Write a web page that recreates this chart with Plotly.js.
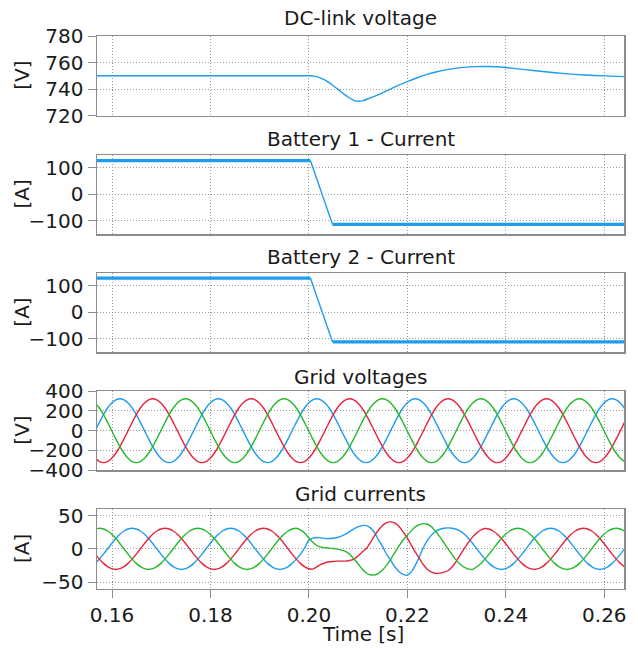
<!DOCTYPE html>
<html>
<head>
<meta charset="utf-8">
<script src="https://cdn.plot.ly/plotly-3.0.1.min.js"></script>
<style>html,body{margin:0;padding:0;background:#fff;}#plot{width:638px;height:648px;}</style>
</head>
<body>
<div id="plot"></div>
<script>
// ---------- data ----------
const panelTitles = ["DC-link voltage", "Battery 1 - Current", "Battery 2 - Current", "Grid voltages", "Grid currents"];
const yUnits = ["[V]", "[A]", "[A]", "[V]", "[A]"];
const xTickVals = [0.16, 0.18, 0.20, 0.22, 0.24, 0.26];

// DC-link voltage
const dcTime = [0.1566, 0.200, 0.201, 0.202, 0.203, 0.204, 0.205, 0.206, 0.207, 0.208, 0.209, 0.2095, 0.210, 0.211, 0.212, 0.214, 0.216, 0.218, 0.220, 0.222, 0.224, 0.226, 0.228, 0.230, 0.232, 0.234, 0.236, 0.238, 0.240, 0.244, 0.248, 0.252, 0.256, 0.260, 0.2645];
const dcVolt = [750, 750, 749.7, 748.8, 747.2, 745, 742.3, 739.5, 736.5, 733.8, 731.6, 731, 730.7, 731.2, 732.5, 735.5, 739, 742.5, 745.5, 748.5, 751, 753, 754.6, 755.8, 756.5, 756.9, 757, 756.8, 756.2, 754.6, 753, 751.6, 750.6, 749.9, 749.3];

// Battery currents
const batTime = [0.1566, 0.2003, 0.2048, 0.2645];
const bat1Current = [126, 126, -114, -114];
const bat2Current = [129, 129, -112, -112];

// Grid signals sampled every DT seconds starting at T0
const T0 = 0.1566;
const DT = 0.000833333;
const vA = [0,84,163,230,281,314,325,314,281,230,163,84,0,-84,-163,-230,-281,-314,-325,-314,-281,-230,-163,-84,
0,84,163,230,281,314,325,314,281,230,163,84,0,-84,-163,-230,-281,-314,-325,-314,-281,-230,-163,-84,
0,84,163,230,281,314,325,314,281,230,163,84,0,-84,-163,-230,-281,-314,-325,-314,-281,-230,-163,-84,
0,84,163,230,281,314,325,314,281,230,163,84,0,-84,-163,-230,-281,-314,-325,-314,-281,-230,-163,-84,
0,84,163,230,281,314,325,314,281,230,163,84,0,-84,-163,-230,-281,-314,-325,-314,-281,-230,-163,-84,
0,84,163,230,281,314,325,314,281,230];
const vB = [-281,-314,-325,-314,-281,-230,-163,-84,0,84,163,230,281,314,325,314,281,230,163,84,0,-84,-163,-230,
-281,-314,-325,-314,-281,-230,-163,-84,0,84,163,230,281,314,325,314,281,230,163,84,0,-84,-163,-230,
-281,-314,-325,-314,-281,-230,-163,-84,0,84,163,230,281,314,325,314,281,230,163,84,0,-84,-163,-230,
-281,-314,-325,-314,-281,-230,-163,-84,0,84,163,230,281,314,325,314,281,230,163,84,0,-84,-163,-230,
-281,-314,-325,-314,-281,-230,-163,-84,0,84,163,230,281,314,325,314,281,230,163,84,0,-84,-163,-230,
-281,-314,-325,-314,-281,-230,-163,-84,0,84];
const vC = [281,230,163,84,0,-84,-163,-230,-281,-314,-325,-314,-281,-230,-163,-84,0,84,163,230,281,314,325,314,
281,230,163,84,0,-84,-163,-230,-281,-314,-325,-314,-281,-230,-163,-84,0,84,163,230,281,314,325,314,
281,230,163,84,0,-84,-163,-230,-281,-314,-325,-314,-281,-230,-163,-84,0,84,163,230,281,314,325,314,
281,230,163,84,0,-84,-163,-230,-281,-314,-325,-314,-281,-230,-163,-84,0,84,163,230,281,314,325,314,
281,230,163,84,0,-84,-163,-230,-281,-314,-325,-314,-281,-230,-163,-84,0,84,163,230,281,314,325,314,
281,230,163,84,0,-84,-163,-230,-281,-314];

const iA = [-21.9,-15.5,-8,0,8,15.5,21.9,26.8,29.9,31,29.9,26.8,21.9,15.5,8,0,-8,-15.5,-21.9,-26.8,-29.9,-31,-29.9,-26.8,
-21.9,-15.5,-8,0,8,15.5,21.9,26.8,29.9,31,29.9,26.8,21.9,15.5,8,0,-8,-15.5,-21.9,-26.8,-29.9,-31,-29.9,-26.8,
-21.9,-15.5,-8,1,
13,16,17,16.5,15.5,15.5,16,17,19,22,
26,30,33,35,35,32,25,14,4,-8,
-17,-27,-34,-38.5,-39.5,-35,-25,-12,2,13,
21,26.5,29.5,31,31.5,31,29.5,
26.8,21.9,15.5,8,0,-8,-15.5,-21.9,-26.8,-29.9,
-31,-29.9,-26.8,-21.9,-15.5,-8,0,8,15.5,21.9,
26.8,29.9,31,29.9,26.8,21.9,15.5,8,0,-8,
-15.5,-21.9,-26.8,-29.9,-31,-29.9,-26.8,-21.9,-15.5,-8,0];
const iB = [-8,-15.5,-21.9,-26.8,-29.9,-31,-29.9,-26.8,-21.9,-15.5,-8,0,8,15.5,21.9,26.8,29.9,31,29.9,26.8,21.9,15.5,8,0,
-8,-15.5,-21.9,-26.8,-29.9,-31,-29.9,-26.8,-21.9,-15.5,-8,0,8,15.5,21.9,26.8,29.9,31,29.9,26.8,21.9,15.5,8,0,
-8,-15.5,-21.9,-26.8,
-30,-30.5,-27,-23.5,-21,-19.5,-19,-18.5,-18.5,-18.5,
-17.5,-16,-11,-5,0,9,19,28,35,39.5,
40.5,39,34,26,17,6,-5,-14.5,-24,-31,
-35,-37,-36.5,-35,-33,-27,-19,-9,1,10,
18,24,28.5,30.5,
29.9,26.8,21.9,15.5,8,0,-8,-15.5,-21.9,-26.8,
-29.9,-31,-29.9,-26.8,-21.9,-15.5,-8,0,8,15.5,
21.9,26.8,29.9,31,29.9,26.8,21.9,15.5,8,0,
-8,-15.5,-21.9,-26.8];
const iC = [29.9,31,29.9,26.8,21.9,15.5,8,0,-8,-15.5,-21.9,-26.8,-29.9,-31,-29.9,-26.8,-21.9,-15.5,-8,0,8,15.5,21.9,26.8,
29.9,31,29.9,26.8,21.9,15.5,8,0,-8,-15.5,-21.9,-26.8,-29.9,-31,-29.9,-26.8,-21.9,-15.5,-8,0,8,15.5,21.9,26.8,
29.9,31,
28.5,24,17,10,5,2.5,1.5,1,0.5,-0.5,
-2,-4,-8,-15,-22,-30,-36,-39,-39.5,-37,
-32,-25,-16,-6,4,13,20,27,33,36.5,
38,37,33,26,18,9,0,-9,-17,-23.5,
-28,-30.5,-31,-27,
-21.9,-15.5,-8,0,8,15.5,21.9,26.8,29.9,31,
29.9,26.8,21.9,15.5,8,0,-8,-15.5,-21.9,-26.8,
-29.9,-31,-29.9,-26.8,-21.9,-15.5,-8,0,8,15.5,
21.9,26.8,29.9,31,29.9,26.8];

// ---------- styling ----------
const FONT = "'DejaVu Sans', Verdana, sans-serif";
const FS = 20;
const TXT = '#1a1a1a';
const BLUE = '#1e9cf0', RED = '#e8233f', GREEN = '#27b82c';
const W = 638, H = 648;
const L = 97, R = 14;
const panelPx = [[36, 115.5], [155, 234], [273.3, 352], [391.3, 470], [509.3, 588.7]];
const titlePx = [18, 139, 257, 377, 494];
const yRanges = [[720, 780], [-150, 147], [-150, 147], [-400, 400], [-60, 59.5]];
const yTicks = [[720, 740, 760, 780], [-100, 0, 100], [-100, 0, 100], [-400, -200, 0, 200, 400], [-50, 0, 50]];
const XR = [0.15695, 0.2640];

const py = v => 1 - v / H;
const plotW = W - L - R;

const traces = [];
const line = (c, w) => ({color: c, width: w});
traces.push({x: dcTime, y: dcVolt, xaxis: 'x', yaxis: 'y', mode: 'lines', line: Object.assign(line(BLUE, 1.4), {shape: 'spline', smoothing: 0.6})});
function batteryTraces(vals, ax, ay) {
  traces.push({x: [batTime[0], batTime[1], null, batTime[2], batTime[3]], y: [vals[0], vals[1], null, vals[2], vals[3]], xaxis: ax, yaxis: ay, mode: 'lines', line: line(BLUE, 3.2)});
  traces.push({x: [batTime[1], batTime[2]], y: [vals[1], vals[2]], xaxis: ax, yaxis: ay, mode: 'lines', line: line(BLUE, 1.4)});
}
batteryTraces(bat1Current, 'x2', 'y2');
batteryTraces(bat2Current, 'x3', 'y3');
[[vA, BLUE], [vB, RED], [vC, GREEN]].forEach(([v, c]) => traces.push({x0: T0, dx: DT, y: v, xaxis: 'x4', yaxis: 'y4', mode: 'lines', line: Object.assign(line(c, 1.4), {shape: 'spline', smoothing: 0.5})}));
[[iA, BLUE], [iB, RED], [iC, GREEN]].forEach(([v, c]) => traces.push({x0: T0, dx: DT, y: v, xaxis: 'x5', yaxis: 'y5', mode: 'lines', line: Object.assign(line(c, 1.4), {shape: 'spline', smoothing: 0.5})}));

const layout = {
  width: W, height: H,
  margin: {l: L, r: R, t: 0, b: 0, pad: 0},
  paper_bgcolor: '#fff', plot_bgcolor: '#fff',
  showlegend: false,
  font: {family: FONT, size: FS, color: TXT},
  annotations: []
};
const axisCommon = {
  showline: true, mirror: true, linecolor: '#8c8c8c', linewidth: 1.5,
  showgrid: true, gridcolor: '#9a9a9a', griddash: '1px,2px', gridwidth: 1,
  zeroline: false, tickcolor: '#8c8c8c', tickwidth: 1
};
for (let i = 0; i < 5; i++) {
  const s = i === 0 ? '' : String(i + 1);
  const [top, bot] = panelPx[i];
  layout['xaxis' + s] = Object.assign({}, axisCommon, {
    domain: [0, 1], anchor: 'y' + s, range: XR,
    tickmode: 'array', tickvals: xTickVals, tickformat: '.2f',
    showticklabels: i === 4, ticks: i === 4 ? 'outside' : '', ticklen: 8,
    tickfont: {family: FONT, size: FS, color: TXT}
  });
  layout['yaxis' + s] = Object.assign({}, axisCommon, {
    domain: [py(bot), py(top)], anchor: 'x' + s, range: yRanges[i],
    tickmode: 'array', tickvals: yTicks[i], ticks: 'outside', ticklen: 8,
    tickfont: {family: FONT, size: FS, color: TXT}
  });
  layout.annotations.push({text: panelTitles[i], xref: 'paper', yref: 'paper', x: 0.5, y: py(titlePx[i]), xanchor: 'center', yanchor: 'middle', showarrow: false, font: {family: FONT, size: FS, color: TXT}});
  layout.annotations.push({text: yUnits[i], xref: 'paper', yref: 'paper', x: (22 - L) / plotW, y: py((top + bot) / 2), xanchor: 'center', yanchor: 'middle', textangle: -90, showarrow: false, font: {family: FONT, size: FS, color: TXT}});
}
layout.annotations.push({text: 'Time [s]', xref: 'paper', yref: 'paper', x: 0.505, y: py(634), xanchor: 'center', yanchor: 'middle', showarrow: false, font: {family: FONT, size: FS, color: TXT}});

Plotly.newPlot('plot', traces, layout, {displayModeBar: false, staticPlot: true});
</script>
</body>
</html>
